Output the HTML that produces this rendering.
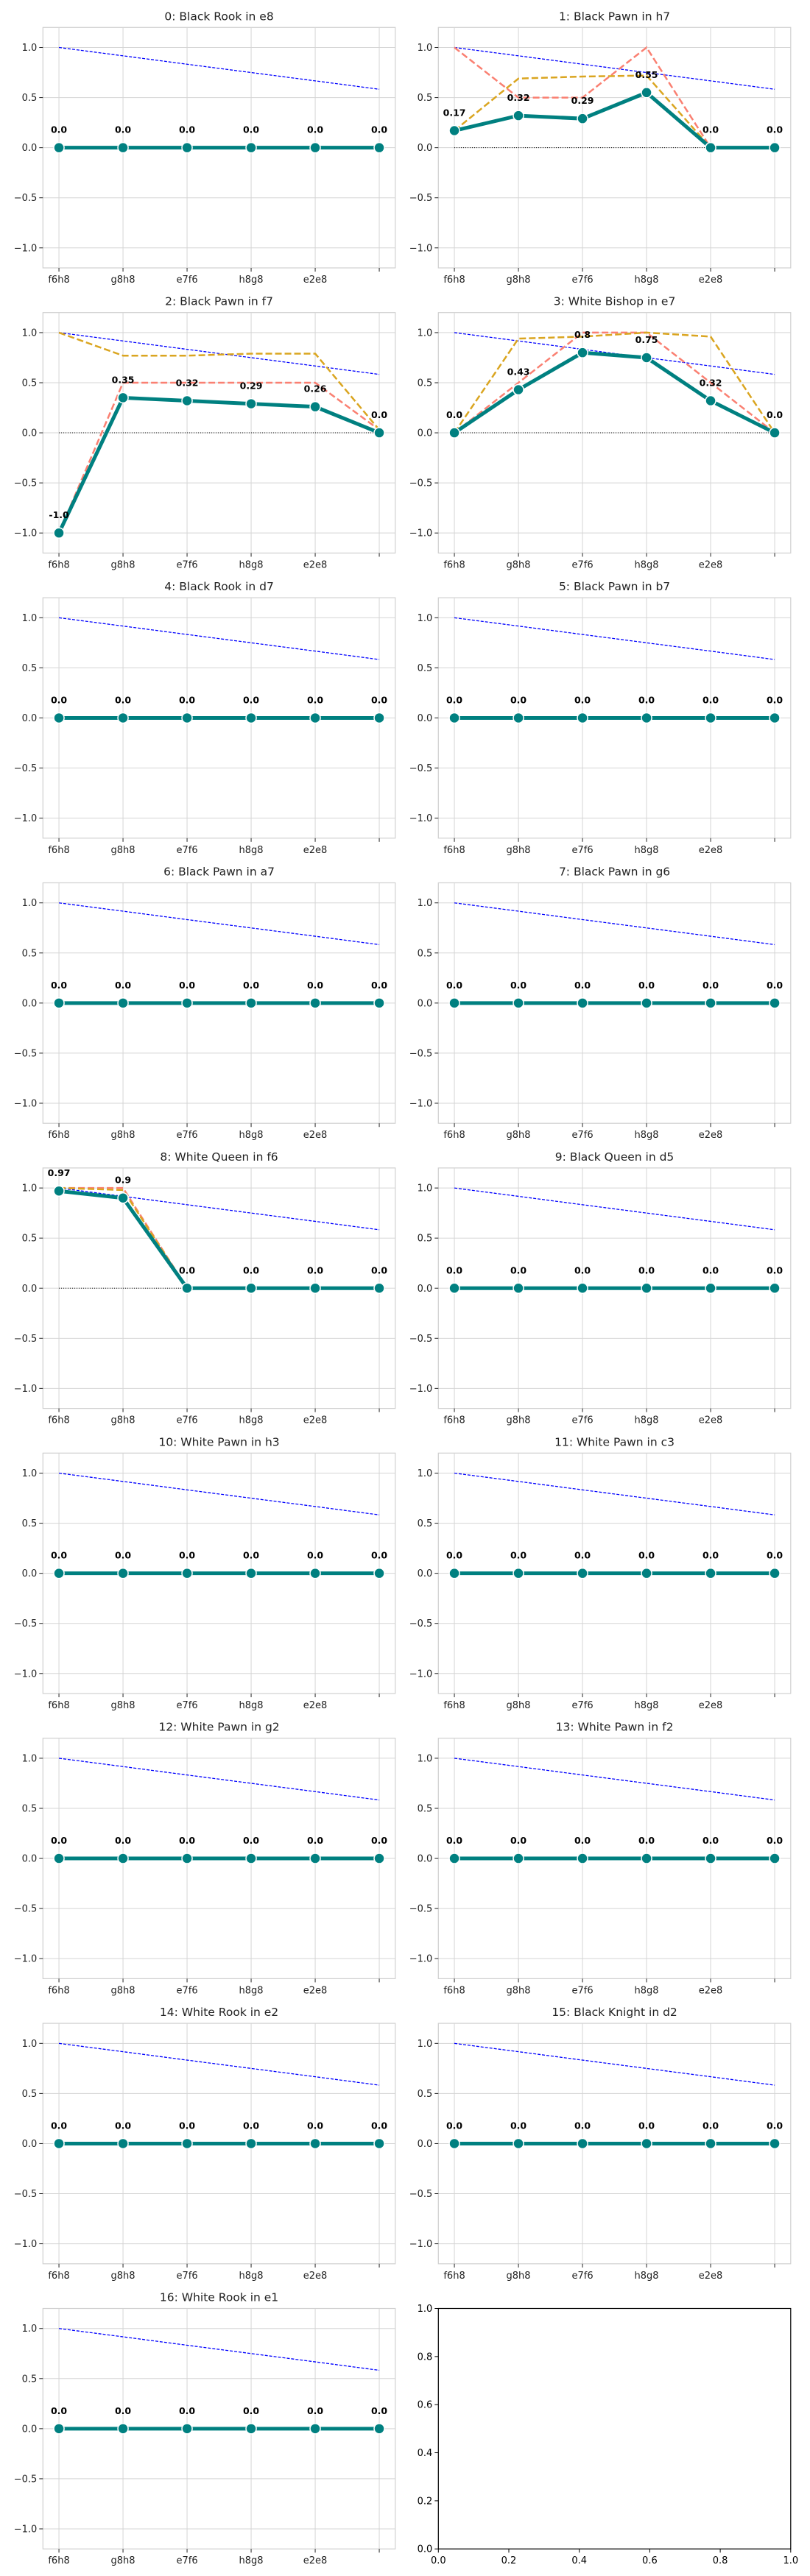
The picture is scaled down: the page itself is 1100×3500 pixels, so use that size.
<!DOCTYPE html>
<html><head><meta charset="utf-8"><style>
html,body{margin:0;padding:0;background:#fff;}
svg{display:block;font-family:"DejaVu Sans","Liberation Sans",sans-serif;}
</style></head>
<body>
<svg id="fig" width="1100" height="3500" viewBox="0 0 1100 3500" xmlns="http://www.w3.org/2000/svg"></svg>
<script>
const categories = ["f6h8","g8h8","e7f6","h8g8","e2e8",""];
const titles = ["0: Black Rook in e8","1: Black Pawn in h7","2: Black Pawn in f7","3: White Bishop in e7","4: Black Rook in d7","5: Black Pawn in b7","6: Black Pawn in a7","7: Black Pawn in g6","8: White Queen in f6","9: Black Queen in d5","10: White Pawn in h3","11: White Pawn in c3","12: White Pawn in g2","13: White Pawn in f2","14: White Rook in e2","15: Black Knight in d2","16: White Rook in e1"];
const refLine = [1.0,0.917,0.833,0.75,0.667,0.583];
const zeros = [0,0,0,0,0,0];
const tealValues = [
 zeros,[0.17,0.32,0.29,0.55,0,0],[-1.0,0.35,0.32,0.29,0.26,0],[0,0.43,0.8,0.75,0.32,0],
 zeros,zeros,zeros,zeros,[0.97,0.9,0,0,0,0],zeros,zeros,zeros,zeros,zeros,zeros,zeros,zeros];
const salmonValues = [null,[1,0.5,0.5,1,0,0],[-1,0.5,0.5,0.5,0.5,0.03],[0,0.5,1,1,0.5,0],null,null,null,null,[1,1,0,0,0,0]];
const goldValues = [null,[0.17,0.69,0.71,0.72,0,0],[1,0.77,0.77,0.79,0.79,0.03],[0,0.94,0.96,1.0,0.96,0],null,null,null,null,[1,0.98,0,0,0,0]];
const yTicks = [-1.0,-0.5,0.0,0.5,1.0];
const yTickLabels = ["\u22121.0","\u22120.5","0.0","0.5","1.0"];
const emptyTicks = [0,0.2,0.4,0.6,0.8,1.0];
const emptyTickLabels = ["0.0","0.2","0.4","0.6","0.8","1.0"];

const NS="http://www.w3.org/2000/svg";
const fig=document.getElementById('fig');
function mk(tag,attrs,parent){const e=document.createElementNS(NS,tag);for(const k in attrs)e.setAttribute(k,attrs[k]);(parent||fig).appendChild(e);return e;}
const colX=[58.3,595.3], AW=478.5, AH=326.7, ROW0=37.3, PITCH=387.4;
function pts(arr,sx,sy){return arr.map((v,i)=>sx(i)+","+sy(v)).join(" ");}

for(let p=0;p<18;p++){
  const r=Math.floor(p/2), c=p%2;
  const x0=colX[c], y0=ROW0+r*PITCH;
  const g=mk('g',{});
  if(p===17){
    
    
    const ex=v=>x0+v*AW, ey=v=>y0+AH-v*AH;
    mk('rect',{x:x0,y:y0,width:AW,height:AH,fill:'none',stroke:'#000','stroke-width':1.2},g);
    emptyTicks.forEach((t,i)=>{
      mk('line',{x1:ex(t),x2:ex(t),y1:y0+AH,y2:y0+AH+5,stroke:'#000'},g);
      const tx=mk('text',{x:ex(t),y:y0+AH+20,'text-anchor':'middle','font-size':13,fill:'#000'},g);
      tx.textContent=emptyTickLabels[i];
      
      
      mk('line',{x1:x0-5,x2:x0,y1:ey(t),y2:ey(t),stroke:'#000'},g);
      const ty=mk('text',{x:x0-8,y:ey(t)+4.5,'text-anchor':'end','font-size':13,fill:'#000'},g);
      ty.textContent=emptyTickLabels[i];
      
      
    });
    continue;
  }
  
  
  const sx=i=>x0+(i+0.25)/5.5*AW;
  const sy=v=>y0+(1.2-v)/2.4*AH;
  mk('rect',{x:x0,y:y0,width:AW,height:AH,fill:'none',stroke:'#d0d0d0','stroke-width':1.2},g);
  categories.forEach((cat,i)=>{
    mk('line',{x1:sx(i),x2:sx(i),y1:y0,y2:y0+AH,stroke:'#d5d5d5','stroke-width':1},g);
    mk('line',{x1:sx(i),x2:sx(i),y1:y0+AH,y2:y0+AH+5,stroke:'#222'},g);
    const t=mk('text',{x:sx(i),y:y0+AH+20,'text-anchor':'middle','font-size':13,fill:'#222'},g);
    t.textContent=cat;
    
    
  });
  yTicks.forEach((v,i)=>{
    mk('line',{x1:x0,x2:x0+AW,y1:sy(v),y2:sy(v),stroke:'#d5d5d5','stroke-width':1},g);
    mk('line',{x1:x0-5,x2:x0,y1:sy(v),y2:sy(v),stroke:'#222'},g);
    const t=mk('text',{x:x0-8,y:sy(v)+4.5,'text-anchor':'end','font-size':13,fill:'#222'},g);
    t.textContent=yTickLabels[i];
    
    
  });
  const title=mk('text',{x:x0+AW/2,y:y0-10,'text-anchor':'middle','font-size':15.5,fill:'#222'},g);
  title.textContent=titles[p];
  
  
  const ref=mk('polyline',{points:pts(refLine,sx,sy),fill:'none',stroke:'#0000ff','stroke-width':1.3,'stroke-dasharray':'4,2'},g);
  
  
  if(salmonValues[p]){
    const z=mk('polyline',{points:pts(zeros,sx,sy),fill:'none',stroke:'#000','stroke-width':1,'stroke-dasharray':'1,2'},g);
    
    
    const s=mk('polyline',{points:pts(salmonValues[p],sx,sy),fill:'none',stroke:'#fa8072','stroke-width':2.5,'stroke-dasharray':'9,4'},g);
    
    
    const o=mk('polyline',{points:pts(goldValues[p],sx,sy),fill:'none',stroke:'#daa520','stroke-width':2.5,'stroke-dasharray':'9,4'},g);
    
    
  }
  const tv=tealValues[p];
  const line=mk('polyline',{points:pts(tv,sx,sy),fill:'none',stroke:'#008080','stroke-width':5},g);
  
  
  tv.forEach((v,i)=>{
    const m=mk('circle',{cx:sx(i),cy:sy(v),r:7,fill:'#008080',stroke:'#fff','stroke-width':1.5},g);
    
    
    const l=mk('text',{x:sx(i),y:sy(v)-20,'text-anchor':'middle','font-size':12.5,'font-weight':'bold',fill:'#000'},g);
    l.textContent=String(v===0?'0.0':(v===-1?'-1.0':v));
    
    
  });
}
</script>
</body></html>
